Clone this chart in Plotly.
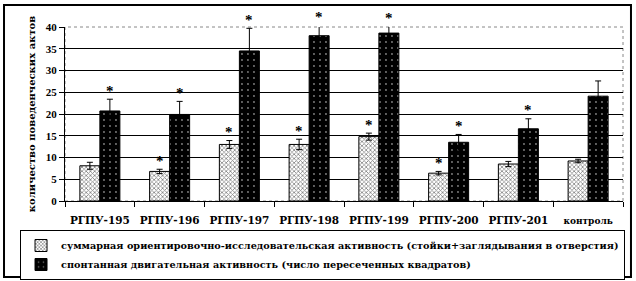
import plotly.graph_objects as go

categories = ["РГПУ-195", "РГПУ-196", "РГПУ-197", "РГПУ-198", "РГПУ-199", "РГПУ-200", "РГПУ-201", "контроль"]
tick_labels = ["РГПУ-195", "РГПУ-196", "РГПУ-197", "РГПУ-198", "РГПУ-199", "РГПУ-200", "РГПУ-201",
               "<span style='font-size:9px'>контроль</span>"]
orient = [8.1, 6.8, 13.0, 13.0, 14.8, 6.4, 8.5, 9.2]
orient_err = [0.8, 0.5, 0.9, 1.2, 0.8, 0.4, 0.6, 0.4]
motor = [20.7, 19.9, 34.5, 38.0, 38.6, 13.5, 16.6, 24.1]
motor_err = [2.7, 3.0, 5.2, 2.3, 1.6, 1.8, 2.3, 3.5]
orient_sig = [0, 1, 1, 1, 1, 1, 0, 0]
motor_sig = [1, 1, 1, 1, 1, 1, 1, 0]
name_orient = "суммарная ориентировочно-исследовательская активность (стойки+заглядывания в отверстия)"
name_motor = "спонтанная двигательная активность (число пересеченных квадратов)"
y_title = "количество поведенческих актов"
y_ticks = [0, 5, 10, 15, 20, 25, 30, 35, 40]
Y_MAX = 40

SERIF = "DejaVu Serif"
BARGAP = 0.4265
fig = go.Figure()
fig.add_trace(go.Bar(
    x=categories, y=orient, name=name_orient,
    marker=dict(color="#909090", line=dict(color="black", width=1),
                pattern=dict(shape="x", fgcolor="black", bgcolor="white", size=3, solidity=0.45)),
    error_y=dict(type="data", array=orient_err, color="black", thickness=1, width=3),
))
fig.add_trace(go.Bar(
    x=categories, y=motor, name=name_motor,
    marker=dict(color="black", line=dict(color="black", width=1),
                pattern=dict(shape=".", fgcolor="white", bgcolor="black", size=6, solidity=0.08)),
    error_y=dict(type="data", array=motor_err, color="black", thickness=1, width=3),
))

STAR_OFFSET = 2.6
for vals, errs, sig, shift in [(orient, orient_err, orient_sig, -10), (motor, motor_err, motor_sig, 10)]:
    for c, v, e, s in zip(categories, vals, errs, sig):
        if s:
            fig.add_annotation(x=c, y=(v + e + STAR_OFFSET) / Y_MAX, text="<b>*</b>", showarrow=False,
                               xref="x", yref="paper", xanchor="center", yanchor="middle",
                               xshift=shift, yshift=-3,
                               font=dict(family="Liberation Serif", size=15, color="black"))

# outer frame
fig.add_shape(type="rect", xref="paper", yref="paper", x0=-0.1093, x1=1.0143, y0=-0.4368, y1=1.1264,
              line=dict(color="black", width=2), fillcolor="rgba(0,0,0,0)", layer="below")
# plot area border (dotted grey) and white cover for top gridline
fig.add_shape(type="line", xref="paper", yref="paper", x0=0, x1=1, y0=1, y1=1,
              line=dict(color="white", width=1.5), layer="between")
fig.add_shape(type="rect", xref="paper", yref="paper", x0=0, x1=1, y0=0, y1=1,
              line=dict(color="#888888", width=1, dash="dot"), layer="between")

fig.update_layout(
    width=636, height=281,
    margin=dict(l=65, r=13, t=27, b=80, autoexpand=False),
    paper_bgcolor="white", plot_bgcolor="white",
    barmode="group", bargap=BARGAP, bargroupgap=0,
    showlegend=True,
    legend=dict(x=-0.0806, y=-0.1667, xanchor="left", yanchor="top",
                bordercolor="black", borderwidth=1, bgcolor="white",
                font=dict(family=SERIF, size=9.7, color="black", weight="bold"),
                orientation="v", tracegroupgap=0, itemwidth=30),
    font=dict(family=SERIF, color="black"),
)
fig.update_xaxes(
    type="category", tickvals=categories, ticktext=tick_labels, tickangle=0,
    showline=True, linecolor="black", linewidth=1,
    ticks="outside", tickson="boundaries", ticklen=5, tickcolor="black",
    tickfont=dict(family=SERIF, size=10.5, color="black", weight="bold"),
    ticklabelstandoff=9, automargin=False,
)
fig.update_yaxes(
    range=[0, Y_MAX], tickvals=y_ticks,
    showline=True, linecolor="black", linewidth=1,
    ticks="outside", ticklen=5, tickcolor="black",
    showgrid=True, gridcolor="black", gridwidth=1, zeroline=False,
    tickfont=dict(family="Liberation Serif", size=11, color="black", weight="bold"),
    title=dict(text=y_title, font=dict(family=SERIF, size=10, color="black", weight="bold"), standoff=8),
    automargin=False,
)

fig.write_html("out.html")
